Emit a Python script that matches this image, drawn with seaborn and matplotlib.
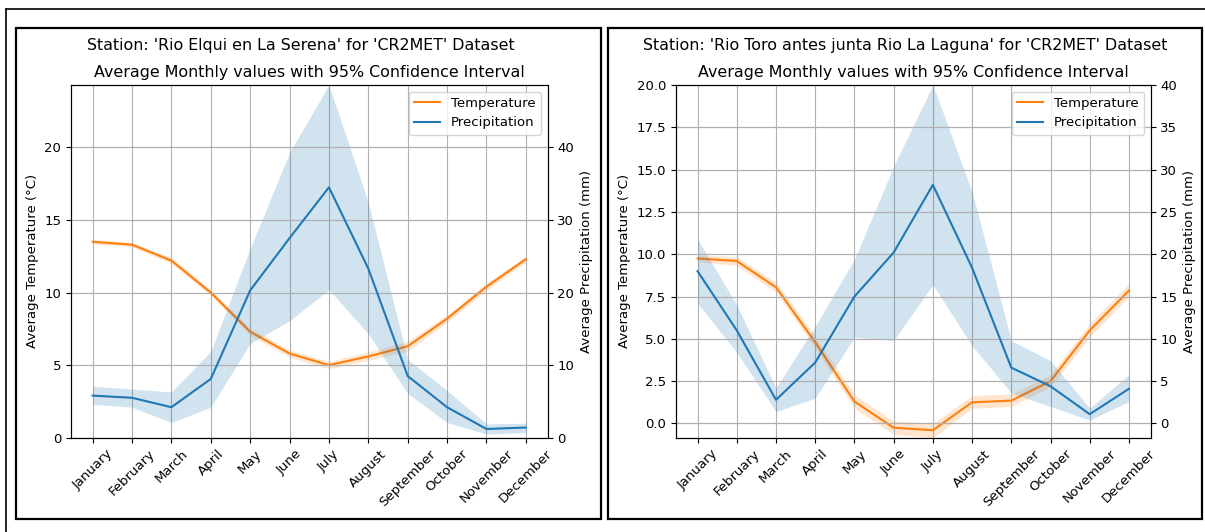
import matplotlib

matplotlib.use("Agg")
import matplotlib.pyplot as plt
import seaborn as sns
from matplotlib.lines import Line2D
from matplotlib.patches import Rectangle


MONTHS = ["January", "February", "March", "April", "May", "June",
          "July", "August", "September", "October", "November", "December"]

# Rio Elqui en La Serena
elqui_temp = [13.5, 13.3, 12.2, 10.0, 7.3, 5.8, 5.0, 5.6, 6.3, 8.2, 10.4, 12.3]
elqui_temp_lo = [13.35, 13.15, 12.0, 9.8, 7.05, 5.55, 4.75, 5.35, 5.95, 7.95, 10.15, 12.1]
elqui_temp_hi = [13.65, 13.45, 12.4, 10.2, 7.55, 6.05, 5.25, 5.9, 6.65, 8.45, 10.65, 12.5]
elqui_prec = [5.8, 5.5, 4.2, 8.1, 20.3, 27.5, 34.5, 23.3, 8.5, 4.2, 1.2, 1.4]
elqui_prec_lo = [4.6, 4.2, 2.1, 4.2, 13.0, 16.1, 20.4, 14.3, 6.1, 2.1, 0.5, 0.7]
elqui_prec_hi = [7.1, 6.7, 6.3, 11.9, 26.1, 39.3, 48.6, 32.4, 10.8, 6.5, 1.9, 2.0]

# Rio Toro antes junta Rio La Laguna
toro_temp = [9.75, 9.6, 8.05, 4.8, 1.3, -0.25, -0.4, 1.25, 1.35, 2.5, 5.5, 7.85]
toro_temp_lo = [9.55, 9.35, 7.75, 4.45, 0.9, -0.65, -0.85, 0.9, 1.0, 2.15, 5.1, 7.5]
toro_temp_hi = [9.95, 9.85, 8.35, 5.15, 1.7, 0.15, 0.0, 1.65, 1.75, 2.9, 5.9, 8.25]
toro_prec = [18.0, 11.0, 2.8, 7.2, 15.0, 20.2, 28.2, 18.4, 6.6, 4.4, 1.1, 4.1]
toro_prec_lo = [14.2, 8.4, 1.4, 3.0, 10.2, 9.8, 16.4, 9.2, 3.6, 2.0, 0.4, 2.6]
toro_prec_hi = [21.8, 14.0, 4.2, 11.5, 19.4, 30.4, 40.0, 27.4, 9.8, 7.4, 1.8, 5.8]

PANELS = [
    {"station": "Rio Elqui en La Serena", "temp": elqui_temp, "temp_lo": elqui_temp_lo,
     "temp_hi": elqui_temp_hi, "prec": elqui_prec, "prec_lo": elqui_prec_lo,
     "prec_hi": elqui_prec_hi, "ylim_t": (0, 24.3), "ylim_p": (0, 48.6)},
    {"station": "Rio Toro antes junta Rio La Laguna", "temp": toro_temp, "temp_lo": toro_temp_lo,
     "temp_hi": toro_temp_hi, "prec": toro_prec, "prec_lo": toro_prec_lo,
     "prec_hi": toro_prec_hi, "ylim_t": (-0.84, 20.0), "ylim_p": (-1.68, 40.0)},
]

W, H = 1205, 532
TEMP_COLOR = "#ff7f0e"
PREC_COLOR = "#1f77b4"
TICK_SIZE = 9.5
LABEL_SIZE = 9.5
TITLE_SIZE = 11.4


def px_rect(x0, y0, x1, y1):
    return [x0 / W, 1 - y1 / H, (x1 - x0) / W, (y1 - y0) / H]


def draw_panel(fig, rect, title_x, panel):
    ax1 = fig.add_axes(rect)
    x = list(range(len(MONTHS)))

    sns.lineplot(x=x, y=panel["temp"], ax=ax1, color=TEMP_COLOR, label="Temperature", legend=False)
    ax1.fill_between(x, panel["temp_lo"], panel["temp_hi"], color=TEMP_COLOR, alpha=0.2, linewidth=0)
    ax1.set_ylim(*panel["ylim_t"])
    ax1.set_ylabel("Average Temperature (°C)", fontsize=LABEL_SIZE)
    ax1.set_xlabel("")
    ax1.set_xticks(x)
    ax1.set_xticklabels(MONTHS, rotation=45)
    ax1.tick_params(labelsize=TICK_SIZE)
    ax1.grid(True)

    ax2 = ax1.twinx()
    sns.lineplot(x=x, y=panel["prec"], ax=ax2, color=PREC_COLOR, label="Precipitation", legend=False)
    ax2.fill_between(x, panel["prec_lo"], panel["prec_hi"], color=PREC_COLOR, alpha=0.2, linewidth=0)
    ax2.set_ylim(*panel["ylim_p"])
    ax2.set_ylabel("Average Precipitation (mm)", fontsize=LABEL_SIZE)
    ax2.tick_params(labelsize=TICK_SIZE)
    ax2.grid(True)

    handles = [ax1.get_lines()[0], ax2.get_lines()[0]]
    ax2.legend(handles, ["Temperature", "Precipitation"], loc="upper right", fontsize=TICK_SIZE)

    ax1.set_title("Average Monthly values with 95% Confidence Interval", fontsize=TITLE_SIZE)
    fig.text(title_x / W, 1 - 50 / H, f"Station: '{panel['station']}' for 'CR2MET' Dataset",
             ha="center", va="baseline", fontsize=TITLE_SIZE)


fig = plt.figure(figsize=(W / 100, H / 100), dpi=100)

# screenshot frames
fig.add_artist(Line2D([6 / W, 6 / W], [0, 1 - 9 / H], color="black", linewidth=1.2, transform=fig.transFigure))
fig.add_artist(Line2D([6 / W, 1], [1 - 9 / H, 1 - 9 / H], color="black", linewidth=1.2, transform=fig.transFigure))
for x0, x1 in [(16, 601), (608, 1202)]:
    r = px_rect(x0, 28, x1, 519)
    fig.add_artist(Rectangle((r[0], r[1]), r[2], r[3], fill=False, edgecolor="black",
                             linewidth=1.6, transform=fig.transFigure))

draw_panel(fig, px_rect(71, 85, 547.5, 437.7), 301, PANELS[0])
draw_panel(fig, px_rect(676, 85, 1150.5, 437.7), 905.5, PANELS[1])

fig.savefig("out.png", dpi=100)
